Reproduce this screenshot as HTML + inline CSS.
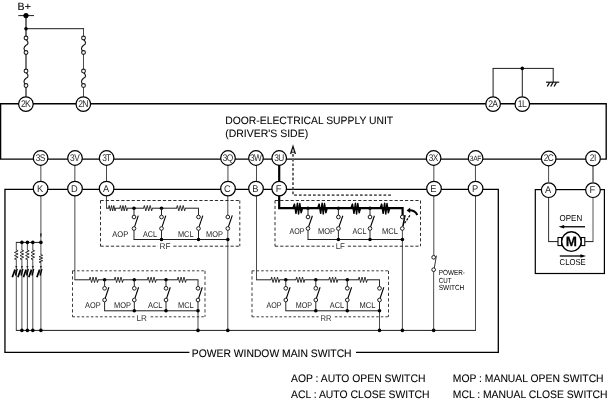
<!DOCTYPE html>
<html lang="en">
<head>
<meta charset="utf-8">
<title>Power Window Main Switch Wiring Diagram</title>
<style>
html,body{margin:0;padding:0;background:#fff;}
body{width:608px;height:400px;overflow:hidden;}
svg{display:block;font-family:"Liberation Sans", sans-serif;filter:grayscale(1);text-rendering:geometricPrecision;}
</style>
</head>
<body>
<svg width="608" height="400" viewBox="0 0 608 400">
<rect x="0" y="0" width="608" height="400" fill="#fff"/>
<text x="17.6" y="9.6" font-size="10.6" fill="#000"  stroke="#000" stroke-width="0.1">B+</text>
<line x1="18.3" y1="15.6" x2="34" y2="15.6" stroke="#1c1c1c" stroke-width="1.0" />
<line x1="26" y1="15.6" x2="26" y2="36.2" stroke="#1c1c1c" stroke-width="1.25" />
<circle cx="26" cy="15.6" r="2.6" fill="#000"/>
<line x1="26" y1="28.7" x2="83.9" y2="28.7" stroke="#1c1c1c" stroke-width="1.0" />
<line x1="83.5" y1="28.2" x2="83.5" y2="36.4" stroke="#1c1c1c" stroke-width="0.8" />
<circle cx="26" cy="28.7" r="1.8" fill="#000"/>
<path d="M26,39.5 c3.0,2.47 2.4,4.79 0,5.75 c-2.4,1.97 -3.0,4.79 0,5.75" fill="none" stroke="#111" stroke-width="1.1"/>
<circle cx="26" cy="38" r="1.9" fill="#fff" stroke="#1c1c1c" stroke-width="1.05"/>
<circle cx="26" cy="52.5" r="1.9" fill="#fff" stroke="#1c1c1c" stroke-width="1.05"/>
<line x1="26" y1="54" x2="26" y2="69.5" stroke="#1c1c1c" stroke-width="1.2" />
<path d="M26,72.5 c3.0,2.47 2.4,4.79 0,5.75 c-2.4,1.97 -3.0,4.79 0,5.75" fill="none" stroke="#111" stroke-width="1.1"/>
<circle cx="26" cy="71" r="1.9" fill="#fff" stroke="#1c1c1c" stroke-width="1.05"/>
<circle cx="26" cy="85.5" r="1.9" fill="#fff" stroke="#1c1c1c" stroke-width="1.05"/>
<line x1="26" y1="87" x2="26" y2="97" stroke="#1c1c1c" stroke-width="1.2" />
<path d="M83.5,39.5 c3.0,2.47 2.4,4.79 0,5.75 c-2.4,1.97 -3.0,4.79 0,5.75" fill="none" stroke="#111" stroke-width="1.1"/>
<circle cx="83.5" cy="38" r="1.9" fill="#fff" stroke="#1c1c1c" stroke-width="1.05"/>
<circle cx="83.5" cy="52.5" r="1.9" fill="#fff" stroke="#1c1c1c" stroke-width="1.05"/>
<line x1="83.5" y1="54" x2="83.5" y2="69.5" stroke="#1c1c1c" stroke-width="0.8" />
<path d="M83.5,72.5 c3.0,2.47 2.4,4.79 0,5.75 c-2.4,1.97 -3.0,4.79 0,5.75" fill="none" stroke="#111" stroke-width="1.1"/>
<circle cx="83.5" cy="71" r="1.9" fill="#fff" stroke="#1c1c1c" stroke-width="1.05"/>
<circle cx="83.5" cy="85.5" r="1.9" fill="#fff" stroke="#1c1c1c" stroke-width="1.05"/>
<line x1="83.5" y1="87" x2="83.5" y2="97" stroke="#1c1c1c" stroke-width="0.8" />
<line x1="493.1" y1="68.4" x2="493.1" y2="97" stroke="#1c1c1c" stroke-width="1.0" />
<line x1="492.6" y1="68.4" x2="553.7" y2="68.4" stroke="#1c1c1c" stroke-width="1.0" />
<line x1="553.2" y1="68.4" x2="553.2" y2="82.2" stroke="#1c1c1c" stroke-width="1.0" />
<line x1="522.3" y1="68.4" x2="522.3" y2="97" stroke="#1c1c1c" stroke-width="1.0" />
<circle cx="522.3" cy="68.4" r="1.8" fill="#000"/>
<line x1="546" y1="82.2" x2="559.2" y2="82.2" stroke="#111" stroke-width="1.2" />
<line x1="549.6" y1="82.4" x2="547.3" y2="86.5" stroke="#111" stroke-width="1.3" />
<line x1="553.0" y1="82.4" x2="550.7" y2="86.5" stroke="#111" stroke-width="1.3" />
<line x1="556.4" y1="82.4" x2="554.1" y2="86.5" stroke="#111" stroke-width="1.3" />
<path d="M0.6,103.7 H606.2 V159.1 H0.6 Z" fill="none" stroke="#000" stroke-width="1.35"/>
<text x="225.2" y="124.0" font-size="10.7" textLength="168" lengthAdjust="spacingAndGlyphs" fill="#000"  stroke="#000" stroke-width="0.06">DOOR-ELECTRICAL SUPPLY UNIT</text>
<text x="225.2" y="137.1" font-size="10.7" textLength="83" lengthAdjust="spacingAndGlyphs" fill="#000"  stroke="#000" stroke-width="0.06">(DRIVER&#39;S SIDE)</text>
<polyline points="189.4,352.3 4.95,352.3 4.95,189.3 498.3,189.3 498.3,352.3 356,352.3" fill="none" stroke="#000" stroke-width="1.3" />
<text x="191.8" y="356.7" font-size="10.9" textLength="159.8" lengthAdjust="spacingAndGlyphs" fill="#000"  stroke="#000" stroke-width="0.1">POWER WINDOW MAIN SWITCH</text>
<rect x="535.3" y="189.6" width="69.1" height="83.9" fill="none" stroke="#000" stroke-width="1.2"/>
<line x1="40.85" y1="165" x2="40.85" y2="182" stroke="#1c1c1c" stroke-width="0.8" />
<line x1="74.85" y1="165" x2="74.85" y2="182" stroke="#1c1c1c" stroke-width="0.8" />
<line x1="106.5" y1="165" x2="106.5" y2="182" stroke="#1c1c1c" stroke-width="0.8" />
<line x1="227.95" y1="165" x2="227.95" y2="182" stroke="#1c1c1c" stroke-width="0.8" />
<line x1="256.5" y1="165" x2="256.5" y2="182" stroke="#1c1c1c" stroke-width="0.8" />
<line x1="433.85" y1="165" x2="433.85" y2="182" stroke="#1c1c1c" stroke-width="0.8" />
<line x1="475.45" y1="165" x2="475.45" y2="182" stroke="#1c1c1c" stroke-width="0.8" />
<line x1="548.6" y1="165" x2="548.6" y2="182" stroke="#1c1c1c" stroke-width="0.8" />
<line x1="593.0" y1="165" x2="593.0" y2="182" stroke="#1c1c1c" stroke-width="1.0" />
<line x1="279.2" y1="165" x2="279.2" y2="182" stroke="#000" stroke-width="2.2" />
<polyline points="293,154 293,195.1 392,195.1" fill="none" stroke="#5a5a5a" stroke-width="1.8" stroke-dasharray="2.7 2"/>
<path d="M290.6,154.0 L293,146.4 L295.4,154.0" fill="none" stroke="#111" stroke-width="1.3"/>
<line x1="291.3" y1="152.2" x2="294.7" y2="152.2" stroke="#111" stroke-width="1.0" />
<line x1="40.9" y1="195" x2="40.9" y2="330.4" stroke="#1c1c1c" stroke-width="0.8" />
<path d="M40.1,233.6 L40.6,237.0 L41.199999999999996,237.0 L41.699999999999996,233.6 Z" fill="#111"/>
<line x1="15.9" y1="242.4" x2="40.9" y2="242.4" stroke="#1c1c1c" stroke-width="1.0" />
<line x1="16.3" y1="242.4" x2="16.3" y2="330.4" stroke="#1c1c1c" stroke-width="0.8" />
<line x1="15.9" y1="330.4" x2="475.9" y2="330.4" stroke="#1c1c1c" stroke-width="1.0" />
<line x1="475.5" y1="195" x2="475.5" y2="330.4" stroke="#1c1c1c" stroke-width="0.8" />
<line x1="21.9" y1="242.4" x2="21.9" y2="330.4" stroke="#1c1c1c" stroke-width="0.8" />
<circle cx="21.9" cy="242.4" r="1.8" fill="#000"/>
<circle cx="21.9" cy="330.4" r="1.8" fill="#000"/>
<line x1="27.4" y1="242.4" x2="27.4" y2="330.4" stroke="#1c1c1c" stroke-width="0.8" />
<circle cx="27.4" cy="242.4" r="1.8" fill="#000"/>
<circle cx="27.4" cy="330.4" r="1.8" fill="#000"/>
<line x1="32.8" y1="242.4" x2="32.8" y2="330.4" stroke="#1c1c1c" stroke-width="0.8" />
<circle cx="32.8" cy="242.4" r="1.8" fill="#000"/>
<circle cx="32.8" cy="330.4" r="1.8" fill="#000"/>
<circle cx="40.9" cy="242.4" r="1.8" fill="#000"/>
<circle cx="40.9" cy="330.4" r="1.8" fill="#000"/>
<rect x="14.3" y="250.3" width="4" height="9.0" fill="#fff"/>
<polyline points="16.3,250.0 18.1,250.8 14.5,252.4 18.1,254.0 14.5,255.6 18.1,257.2 14.5,258.8 16.3,259.6" fill="none" stroke="#1c1c1c" stroke-width="0.9" />
<path d="M15.2,266 L16.3,268.6 L17.4,266 Z" fill="#222"/>
<line x1="15.0" y1="269.6" x2="12.3" y2="277.2" stroke="#000" stroke-width="1.7" />
<line x1="15.0" y1="269.8" x2="15.6" y2="275.0" stroke="#111" stroke-width="0.9" />
<line x1="17.3" y1="268.8" x2="15.6" y2="275.6" stroke="#000" stroke-width="1.2" />
<rect x="19.9" y="250.3" width="4" height="9.0" fill="#fff"/>
<polyline points="21.9,250.0 23.7,250.8 20.1,252.4 23.7,254.0 20.1,255.6 23.7,257.2 20.1,258.8 21.9,259.6" fill="none" stroke="#1c1c1c" stroke-width="0.9" />
<path d="M20.8,266 L21.9,268.6 L23.0,266 Z" fill="#222"/>
<line x1="20.6" y1="269.6" x2="17.9" y2="277.2" stroke="#000" stroke-width="1.7" />
<line x1="20.6" y1="269.8" x2="21.2" y2="275.0" stroke="#111" stroke-width="0.9" />
<line x1="22.9" y1="268.8" x2="21.2" y2="275.6" stroke="#000" stroke-width="1.2" />
<rect x="25.4" y="250.3" width="4" height="9.0" fill="#fff"/>
<polyline points="27.4,250.0 29.2,250.8 25.6,252.4 29.2,254.0 25.6,255.6 29.2,257.2 25.6,258.8 27.4,259.6" fill="none" stroke="#1c1c1c" stroke-width="0.9" />
<path d="M26.3,266 L27.4,268.6 L28.5,266 Z" fill="#222"/>
<line x1="26.1" y1="269.6" x2="23.4" y2="277.2" stroke="#000" stroke-width="1.7" />
<line x1="26.1" y1="269.8" x2="26.7" y2="275.0" stroke="#111" stroke-width="0.9" />
<line x1="28.4" y1="268.8" x2="26.7" y2="275.6" stroke="#000" stroke-width="1.2" />
<rect x="30.8" y="250.3" width="4" height="9.0" fill="#fff"/>
<polyline points="32.8,250.0 34.6,250.8 31.0,252.4 34.6,254.0 31.0,255.6 34.6,257.2 31.0,258.8 32.8,259.6" fill="none" stroke="#1c1c1c" stroke-width="0.9" />
<path d="M31.7,266 L32.8,268.6 L33.9,266 Z" fill="#222"/>
<line x1="31.5" y1="269.6" x2="28.8" y2="277.2" stroke="#000" stroke-width="1.7" />
<line x1="31.5" y1="269.8" x2="32.1" y2="275.0" stroke="#111" stroke-width="0.9" />
<line x1="33.8" y1="268.8" x2="32.1" y2="275.6" stroke="#000" stroke-width="1.2" />
<rect x="38.9" y="255.0" width="4" height="7.4" fill="#fff"/>
<polyline points="40.9,254.7 42.7,255.37 39.1,256.7 42.7,258.03 39.1,259.37 42.7,260.7 39.1,262.03 40.9,262.7" fill="none" stroke="#1c1c1c" stroke-width="0.9" />
<path d="M39.8,266 L40.9,268.6 L42.0,266 Z" fill="#222"/>
<line x1="39.6" y1="269.6" x2="36.9" y2="277.2" stroke="#000" stroke-width="1.7" />
<line x1="39.6" y1="269.8" x2="40.2" y2="275.0" stroke="#111" stroke-width="0.9" />
<line x1="41.9" y1="268.8" x2="40.2" y2="275.6" stroke="#000" stroke-width="1.2" />
<line x1="100.5" y1="200.5" x2="239.8" y2="200.5" stroke="#222" stroke-width="0.95" stroke-dasharray="3.2 2"/>
<line x1="100.5" y1="246.2" x2="239.8" y2="246.2" stroke="#222" stroke-width="0.95" stroke-dasharray="3.2 2"/>
<line x1="100.5" y1="200.5" x2="100.5" y2="246.2" stroke="#222" stroke-width="0.95" stroke-dasharray="3.1 2.3"/>
<line x1="239.8" y1="200.5" x2="239.8" y2="246.2" stroke="#222" stroke-width="0.95" stroke-dasharray="3.1 2.3"/>
<line x1="106.5" y1="195" x2="106.5" y2="208.2" stroke="#1c1c1c" stroke-width="0.8" />
<line x1="106.1" y1="208.2" x2="198.9" y2="208.2" stroke="#1c1c1c" stroke-width="1.0" />
<rect x="108.9" y="206.2" width="6.4" height="4" fill="#fff"/>
<polyline points="108.6,208.2 109.18,205.5 110.35,210.9 111.52,205.5 112.68,210.9 113.85,205.5 115.02,210.9 115.6,208.2" fill="none" stroke="#1c1c1c" stroke-width="0.9" stroke-linejoin="miter"/>
<rect x="120.1" y="206.2" width="7.0" height="4" fill="#fff"/>
<polyline points="119.8,208.2 120.43,205.5 121.7,210.9 122.97,205.5 124.23,210.9 125.5,205.5 126.77,210.9 127.4,208.2" fill="none" stroke="#1c1c1c" stroke-width="0.9" stroke-linejoin="miter"/>
<rect x="143.9" y="206.2" width="8.2" height="4" fill="#fff"/>
<polyline points="143.6,208.2 144.33,205.5 145.8,210.9 147.27,205.5 148.73,210.9 150.2,205.5 151.67,210.9 152.4,208.2" fill="none" stroke="#1c1c1c" stroke-width="0.9" stroke-linejoin="miter"/>
<rect x="176.9" y="206.2" width="8.2" height="4" fill="#fff"/>
<polyline points="176.6,208.2 177.33,205.5 178.8,210.9 180.27,205.5 181.73,210.9 183.2,205.5 184.67,210.9 185.4,208.2" fill="none" stroke="#1c1c1c" stroke-width="0.9" stroke-linejoin="miter"/>
<circle cx="134" cy="208.2" r="1.8" fill="#000"/>
<circle cx="161.5" cy="208.2" r="1.8" fill="#000"/>
<line x1="134" y1="208.2" x2="134" y2="215.2" stroke="#1c1c1c" stroke-width="0.95" />
<line x1="134" y1="230.3" x2="134" y2="239.5" stroke="#1c1c1c" stroke-width="0.95" />
<line x1="134.6" y1="226.7" x2="138.3" y2="215.6" stroke="#000" stroke-width="1.1" />
<circle cx="134" cy="217" r="1.85" fill="#fff" stroke="#1c1c1c" stroke-width="1.0"/>
<circle cx="134" cy="228.5" r="1.85" fill="#fff" stroke="#1c1c1c" stroke-width="1.0"/>
<line x1="161.5" y1="208.2" x2="161.5" y2="215.2" stroke="#1c1c1c" stroke-width="0.95" />
<line x1="161.5" y1="230.3" x2="161.5" y2="239.5" stroke="#1c1c1c" stroke-width="0.95" />
<line x1="162.1" y1="226.7" x2="165.8" y2="215.6" stroke="#000" stroke-width="1.1" />
<circle cx="161.5" cy="217" r="1.85" fill="#fff" stroke="#1c1c1c" stroke-width="1.0"/>
<circle cx="161.5" cy="228.5" r="1.85" fill="#fff" stroke="#1c1c1c" stroke-width="1.0"/>
<line x1="198.5" y1="208.2" x2="198.5" y2="215.2" stroke="#1c1c1c" stroke-width="0.95" />
<line x1="198.5" y1="230.3" x2="198.5" y2="239.5" stroke="#1c1c1c" stroke-width="0.95" />
<line x1="199.1" y1="226.7" x2="202.8" y2="215.6" stroke="#000" stroke-width="1.1" />
<circle cx="198.5" cy="217" r="1.85" fill="#fff" stroke="#1c1c1c" stroke-width="1.0"/>
<circle cx="198.5" cy="228.5" r="1.85" fill="#fff" stroke="#1c1c1c" stroke-width="1.0"/>
<line x1="227.8" y1="195" x2="227.8" y2="215.4" stroke="#1c1c1c" stroke-width="0.8" />
<line x1="227.8" y1="230.3" x2="227.8" y2="239.5" stroke="#1c1c1c" stroke-width="0.8" />
<line x1="228.4" y1="226.7" x2="232.3" y2="215.4" stroke="#000" stroke-width="1.1" />
<circle cx="227.8" cy="217" r="1.85" fill="#fff" stroke="#1c1c1c" stroke-width="1.0"/>
<circle cx="227.8" cy="228.5" r="1.85" fill="#fff" stroke="#1c1c1c" stroke-width="1.0"/>
<line x1="133.6" y1="239.5" x2="227.8" y2="239.5" stroke="#1c1c1c" stroke-width="1.0" />
<line x1="227.8" y1="239.5" x2="227.8" y2="330.4" stroke="#1c1c1c" stroke-width="0.8" />
<circle cx="161.5" cy="239.5" r="1.8" fill="#000"/>
<circle cx="198.5" cy="239.5" r="1.8" fill="#000"/>
<circle cx="227.8" cy="239.5" r="1.8" fill="#000"/>
<circle cx="227.8" cy="330.4" r="1.8" fill="#000"/>
<text x="112.3" y="236.6" font-size="8.4" textLength="16" lengthAdjust="spacingAndGlyphs" fill="#1a1a1a" >AOP</text>
<text x="143" y="236.6" font-size="8.4" textLength="14" lengthAdjust="spacingAndGlyphs" fill="#1a1a1a" >ACL</text>
<text x="178" y="236.6" font-size="8.4" textLength="15.5" lengthAdjust="spacingAndGlyphs" fill="#1a1a1a" >MCL</text>
<text x="206" y="236.6" font-size="8.4" textLength="16.8" lengthAdjust="spacingAndGlyphs" fill="#1a1a1a" >MOP</text>
<rect x="157.5" y="243" width="15" height="7" fill="#fff"/>
<text x="159.6" y="249.3" font-size="8.4" textLength="11" lengthAdjust="spacingAndGlyphs" fill="#333" >RF</text>
<line x1="275" y1="200.5" x2="420.5" y2="200.5" stroke="#222" stroke-width="0.95" stroke-dasharray="3.2 2"/>
<line x1="275" y1="246.2" x2="420.5" y2="246.2" stroke="#222" stroke-width="0.95" stroke-dasharray="3.2 2"/>
<line x1="275" y1="200.5" x2="275" y2="246.2" stroke="#222" stroke-width="0.95" stroke-dasharray="3.1 2.3"/>
<line x1="420.5" y1="200.5" x2="420.5" y2="246.2" stroke="#222" stroke-width="0.95" stroke-dasharray="3.1 2.3"/>
<polyline points="279.2,195 279.2,208.1 402.6,208.1 402.6,215.4" fill="none" stroke="#000" stroke-width="2.2" />
<polyline points="293.05,208.1 294.45,204.1 295.95,213.3 297.45,203.2 298.55,214.0 299.8,203.5 301.15,212.7 302.55,208.1" fill="none" stroke="#000" stroke-width="1.5" stroke-linejoin="round"/>
<polyline points="317.75,208.1 319.15,204.1 320.65,213.3 322.15,203.2 323.25,214.0 324.5,203.5 325.85,212.7 327.25,208.1" fill="none" stroke="#000" stroke-width="1.5" stroke-linejoin="round"/>
<polyline points="351.05,208.1 352.45,204.1 353.95,213.3 355.45,203.2 356.55,214.0 357.8,203.5 359.15,212.7 360.55,208.1" fill="none" stroke="#000" stroke-width="1.5" stroke-linejoin="round"/>
<polyline points="380.25,208.1 381.65,204.1 383.15,213.3 384.65,203.2 385.75,214.0 387.0,203.5 388.35,212.7 389.75,208.1" fill="none" stroke="#000" stroke-width="1.5" stroke-linejoin="round"/>
<circle cx="308" cy="208.2" r="1.8" fill="#000"/>
<circle cx="338.4" cy="208.2" r="1.8" fill="#000"/>
<circle cx="370" cy="208.2" r="1.8" fill="#000"/>
<line x1="308" y1="208.2" x2="308" y2="215.2" stroke="#1c1c1c" stroke-width="0.95" />
<line x1="308" y1="230.3" x2="308" y2="239.5" stroke="#1c1c1c" stroke-width="0.95" />
<line x1="308.6" y1="226.7" x2="312.4" y2="215.8" stroke="#000" stroke-width="1.1" />
<circle cx="308" cy="217" r="1.85" fill="#fff" stroke="#1c1c1c" stroke-width="1.0"/>
<circle cx="308" cy="228.5" r="1.85" fill="#fff" stroke="#1c1c1c" stroke-width="1.0"/>
<line x1="338.4" y1="208.2" x2="338.4" y2="215.2" stroke="#1c1c1c" stroke-width="0.95" />
<line x1="338.4" y1="230.3" x2="338.4" y2="239.5" stroke="#1c1c1c" stroke-width="0.95" />
<line x1="339.0" y1="226.7" x2="342.8" y2="215.8" stroke="#000" stroke-width="1.1" />
<circle cx="338.4" cy="217" r="1.85" fill="#fff" stroke="#1c1c1c" stroke-width="1.0"/>
<circle cx="338.4" cy="228.5" r="1.85" fill="#fff" stroke="#1c1c1c" stroke-width="1.0"/>
<line x1="370" y1="208.2" x2="370" y2="215.2" stroke="#1c1c1c" stroke-width="0.95" />
<line x1="370" y1="230.3" x2="370" y2="239.5" stroke="#1c1c1c" stroke-width="0.95" />
<line x1="370.6" y1="226.7" x2="374.4" y2="215.8" stroke="#000" stroke-width="1.1" />
<circle cx="370" cy="217" r="1.85" fill="#fff" stroke="#1c1c1c" stroke-width="1.0"/>
<circle cx="370" cy="228.5" r="1.85" fill="#fff" stroke="#1c1c1c" stroke-width="1.0"/>
<line x1="402.4" y1="230" x2="402.4" y2="239.5" stroke="#1c1c1c" stroke-width="0.8" />
<line x1="402.9" y1="226.4" x2="405.0" y2="215.2" stroke="#000" stroke-width="1.5" />
<line x1="404.6" y1="223.2" x2="410.2" y2="215.0" stroke="#000" stroke-width="1.2" stroke-dasharray="2.4 1.1"/>
<circle cx="402.3" cy="217" r="1.85" fill="#fff" stroke="#1c1c1c" stroke-width="1.0"/>
<circle cx="402.3" cy="228.5" r="1.85" fill="#fff" stroke="#1c1c1c" stroke-width="1.0"/>
<path d="M417.3,215.0 C415.8,211.8 413.0,210.2 409.0,210.3" fill="none" stroke="#000" stroke-width="2.1"/>
<path d="M406.6,210.4 L410.2,207.6 L410.2,213.0 Z" fill="#000"/>
<line x1="307.6" y1="239.5" x2="402.4" y2="239.5" stroke="#1c1c1c" stroke-width="1.0" />
<line x1="402.4" y1="239.5" x2="402.4" y2="330.4" stroke="#1c1c1c" stroke-width="0.8" />
<circle cx="338.4" cy="239.5" r="1.8" fill="#000"/>
<circle cx="370" cy="239.5" r="1.8" fill="#000"/>
<circle cx="402.4" cy="239.5" r="1.8" fill="#000"/>
<circle cx="402.4" cy="330.4" r="1.8" fill="#000"/>
<text x="289.5" y="234.2" font-size="8.4" textLength="15" lengthAdjust="spacingAndGlyphs" fill="#1a1a1a" >AOP</text>
<text x="318" y="234.2" font-size="8.4" textLength="17" lengthAdjust="spacingAndGlyphs" fill="#1a1a1a" >MOP</text>
<text x="352.5" y="234.2" font-size="8.4" textLength="14" lengthAdjust="spacingAndGlyphs" fill="#1a1a1a" >ACL</text>
<text x="382" y="234.2" font-size="8.4" textLength="16" lengthAdjust="spacingAndGlyphs" fill="#1a1a1a" >MCL</text>
<rect x="334" y="243" width="13" height="7" fill="#fff"/>
<text x="335.7" y="249.3" font-size="8.4" textLength="9.2" lengthAdjust="spacingAndGlyphs" fill="#333" >LF</text>
<line x1="72.5" y1="270.8" x2="205" y2="270.8" stroke="#333" stroke-width="0.95" stroke-dasharray="2.5 2.1"/>
<line x1="72.5" y1="316.8" x2="205" y2="316.8" stroke="#333" stroke-width="0.95" stroke-dasharray="2.5 2.1"/>
<line x1="72.5" y1="270.8" x2="72.5" y2="316.8" stroke="#333" stroke-width="0.95" stroke-dasharray="3.2 2.3"/>
<line x1="205" y1="270.8" x2="205" y2="316.8" stroke="#333" stroke-width="0.95" stroke-dasharray="3.2 2.3"/>
<line x1="74.85" y1="195" x2="74.85" y2="279.8" stroke="#1c1c1c" stroke-width="0.8" />
<line x1="74.45" y1="279.8" x2="198.4" y2="279.8" stroke="#1c1c1c" stroke-width="1.0" />
<rect x="89.7" y="277.8" width="8.2" height="4" fill="#fff"/>
<polyline points="89.4,279.8 90.13,277.1 91.6,282.5 93.07,277.1 94.53,282.5 96.0,277.1 97.47,282.5 98.2,279.8" fill="none" stroke="#1c1c1c" stroke-width="0.9" stroke-linejoin="miter"/>
<rect x="114.7" y="277.8" width="8.2" height="4" fill="#fff"/>
<polyline points="114.4,279.8 115.13,277.1 116.6,282.5 118.07,277.1 119.53,282.5 121.0,277.1 122.47,282.5 123.2,279.8" fill="none" stroke="#1c1c1c" stroke-width="0.9" stroke-linejoin="miter"/>
<rect x="147.7" y="277.8" width="8.2" height="4" fill="#fff"/>
<polyline points="147.4,279.8 148.13,277.1 149.6,282.5 151.07,277.1 152.53,282.5 154.0,277.1 155.47,282.5 156.2,279.8" fill="none" stroke="#1c1c1c" stroke-width="0.9" stroke-linejoin="miter"/>
<rect x="177.7" y="277.8" width="8.2" height="4" fill="#fff"/>
<polyline points="177.4,279.8 178.13,277.1 179.6,282.5 181.07,277.1 182.53,282.5 184.0,277.1 185.47,282.5 186.2,279.8" fill="none" stroke="#1c1c1c" stroke-width="0.9" stroke-linejoin="miter"/>
<circle cx="104.6" cy="279.8" r="1.8" fill="#000"/>
<circle cx="134.3" cy="279.8" r="1.8" fill="#000"/>
<circle cx="166" cy="279.8" r="1.8" fill="#000"/>
<line x1="104.6" y1="279.8" x2="104.6" y2="286.5" stroke="#1c1c1c" stroke-width="0.95" />
<line x1="104.6" y1="301.8" x2="104.6" y2="310.8" stroke="#1c1c1c" stroke-width="0.95" />
<line x1="105.2" y1="298.2" x2="108.9" y2="287.3" stroke="#000" stroke-width="1.1" />
<circle cx="104.6" cy="288.3" r="1.85" fill="#fff" stroke="#1c1c1c" stroke-width="1.0"/>
<circle cx="104.6" cy="300" r="1.85" fill="#fff" stroke="#1c1c1c" stroke-width="1.0"/>
<line x1="134.3" y1="279.8" x2="134.3" y2="286.5" stroke="#1c1c1c" stroke-width="0.95" />
<line x1="134.3" y1="301.8" x2="134.3" y2="310.8" stroke="#1c1c1c" stroke-width="0.95" />
<line x1="134.9" y1="298.2" x2="138.6" y2="287.3" stroke="#000" stroke-width="1.1" />
<circle cx="134.3" cy="288.3" r="1.85" fill="#fff" stroke="#1c1c1c" stroke-width="1.0"/>
<circle cx="134.3" cy="300" r="1.85" fill="#fff" stroke="#1c1c1c" stroke-width="1.0"/>
<line x1="166" y1="279.8" x2="166" y2="286.5" stroke="#1c1c1c" stroke-width="0.95" />
<line x1="166" y1="301.8" x2="166" y2="310.8" stroke="#1c1c1c" stroke-width="0.95" />
<line x1="166.6" y1="298.2" x2="170.3" y2="287.3" stroke="#000" stroke-width="1.1" />
<circle cx="166" cy="288.3" r="1.85" fill="#fff" stroke="#1c1c1c" stroke-width="1.0"/>
<circle cx="166" cy="300" r="1.85" fill="#fff" stroke="#1c1c1c" stroke-width="1.0"/>
<line x1="198" y1="279.8" x2="198" y2="286.5" stroke="#1c1c1c" stroke-width="0.95" />
<line x1="198" y1="301.8" x2="198" y2="310.8" stroke="#1c1c1c" stroke-width="0.95" />
<line x1="198.6" y1="298.2" x2="202.3" y2="287.3" stroke="#000" stroke-width="1.1" />
<circle cx="198" cy="288.3" r="1.85" fill="#fff" stroke="#1c1c1c" stroke-width="1.0"/>
<circle cx="198" cy="300" r="1.85" fill="#fff" stroke="#1c1c1c" stroke-width="1.0"/>
<line x1="104.2" y1="310.8" x2="198" y2="310.8" stroke="#1c1c1c" stroke-width="1.0" />
<line x1="198" y1="310.8" x2="198" y2="330.4" stroke="#1c1c1c" stroke-width="0.8" />
<circle cx="134.3" cy="310.8" r="1.8" fill="#000"/>
<circle cx="166" cy="310.8" r="1.8" fill="#000"/>
<circle cx="198" cy="310.8" r="1.8" fill="#000"/>
<circle cx="198" cy="330.4" r="1.8" fill="#000"/>
<text x="85" y="307.8" font-size="8.4" textLength="15.6" lengthAdjust="spacingAndGlyphs" fill="#1a1a1a" >AOP</text>
<text x="114.0" y="307.8" font-size="8.4" textLength="17.0" lengthAdjust="spacingAndGlyphs" fill="#1a1a1a" >MOP</text>
<text x="148" y="307.8" font-size="8.4" textLength="14.5" lengthAdjust="spacingAndGlyphs" fill="#1a1a1a" >ACL</text>
<text x="178" y="307.8" font-size="8.4" textLength="15.7" lengthAdjust="spacingAndGlyphs" fill="#1a1a1a" >MCL</text>
<rect x="134.5" y="314" width="14.5" height="7" fill="#fff"/>
<text x="136.5" y="320.8" font-size="8.4" textLength="10.4" lengthAdjust="spacingAndGlyphs" fill="#333" >LR</text>
<line x1="252" y1="270.8" x2="388.5" y2="270.8" stroke="#333" stroke-width="0.95" stroke-dasharray="2.5 2.1"/>
<line x1="252" y1="316.8" x2="388.5" y2="316.8" stroke="#333" stroke-width="0.95" stroke-dasharray="2.5 2.1"/>
<line x1="252" y1="270.8" x2="252" y2="316.8" stroke="#333" stroke-width="0.95" stroke-dasharray="3.2 2.3"/>
<line x1="388.5" y1="270.8" x2="388.5" y2="316.8" stroke="#333" stroke-width="0.95" stroke-dasharray="3.2 2.3"/>
<line x1="256.5" y1="195" x2="256.5" y2="279.8" stroke="#1c1c1c" stroke-width="0.8" />
<line x1="256.1" y1="279.8" x2="379.9" y2="279.8" stroke="#1c1c1c" stroke-width="1.0" />
<rect x="271.2" y="277.8" width="8.2" height="4" fill="#fff"/>
<polyline points="270.9,279.8 271.63,277.1 273.1,282.5 274.57,277.1 276.03,282.5 277.5,277.1 278.97,282.5 279.7,279.8" fill="none" stroke="#1c1c1c" stroke-width="0.9" stroke-linejoin="miter"/>
<rect x="296.2" y="277.8" width="8.2" height="4" fill="#fff"/>
<polyline points="295.9,279.8 296.63,277.1 298.1,282.5 299.57,277.1 301.03,282.5 302.5,277.1 303.97,282.5 304.7,279.8" fill="none" stroke="#1c1c1c" stroke-width="0.9" stroke-linejoin="miter"/>
<rect x="329.2" y="277.8" width="8.2" height="4" fill="#fff"/>
<polyline points="328.9,279.8 329.63,277.1 331.1,282.5 332.57,277.1 334.03,282.5 335.5,277.1 336.97,282.5 337.7,279.8" fill="none" stroke="#1c1c1c" stroke-width="0.9" stroke-linejoin="miter"/>
<rect x="358.7" y="277.8" width="8.2" height="4" fill="#fff"/>
<polyline points="358.4,279.8 359.13,277.1 360.6,282.5 362.07,277.1 363.53,282.5 365.0,277.1 366.47,282.5 367.2,279.8" fill="none" stroke="#1c1c1c" stroke-width="0.9" stroke-linejoin="miter"/>
<circle cx="285.8" cy="279.8" r="1.8" fill="#000"/>
<circle cx="315.8" cy="279.8" r="1.8" fill="#000"/>
<circle cx="347.3" cy="279.8" r="1.8" fill="#000"/>
<line x1="285.8" y1="279.8" x2="285.8" y2="286.5" stroke="#1c1c1c" stroke-width="0.95" />
<line x1="285.8" y1="301.8" x2="285.8" y2="310.8" stroke="#1c1c1c" stroke-width="0.95" />
<line x1="286.4" y1="298.2" x2="290.1" y2="287.3" stroke="#000" stroke-width="1.1" />
<circle cx="285.8" cy="288.3" r="1.85" fill="#fff" stroke="#1c1c1c" stroke-width="1.0"/>
<circle cx="285.8" cy="300" r="1.85" fill="#fff" stroke="#1c1c1c" stroke-width="1.0"/>
<line x1="315.8" y1="279.8" x2="315.8" y2="286.5" stroke="#1c1c1c" stroke-width="0.95" />
<line x1="315.8" y1="301.8" x2="315.8" y2="310.8" stroke="#1c1c1c" stroke-width="0.95" />
<line x1="316.4" y1="298.2" x2="320.1" y2="287.3" stroke="#000" stroke-width="1.1" />
<circle cx="315.8" cy="288.3" r="1.85" fill="#fff" stroke="#1c1c1c" stroke-width="1.0"/>
<circle cx="315.8" cy="300" r="1.85" fill="#fff" stroke="#1c1c1c" stroke-width="1.0"/>
<line x1="347.3" y1="279.8" x2="347.3" y2="286.5" stroke="#1c1c1c" stroke-width="0.95" />
<line x1="347.3" y1="301.8" x2="347.3" y2="310.8" stroke="#1c1c1c" stroke-width="0.95" />
<line x1="347.9" y1="298.2" x2="351.6" y2="287.3" stroke="#000" stroke-width="1.1" />
<circle cx="347.3" cy="288.3" r="1.85" fill="#fff" stroke="#1c1c1c" stroke-width="1.0"/>
<circle cx="347.3" cy="300" r="1.85" fill="#fff" stroke="#1c1c1c" stroke-width="1.0"/>
<line x1="379.5" y1="279.8" x2="379.5" y2="286.5" stroke="#1c1c1c" stroke-width="0.95" />
<line x1="379.5" y1="301.8" x2="379.5" y2="310.8" stroke="#1c1c1c" stroke-width="0.95" />
<line x1="380.1" y1="298.2" x2="383.8" y2="287.3" stroke="#000" stroke-width="1.1" />
<circle cx="379.5" cy="288.3" r="1.85" fill="#fff" stroke="#1c1c1c" stroke-width="1.0"/>
<circle cx="379.5" cy="300" r="1.85" fill="#fff" stroke="#1c1c1c" stroke-width="1.0"/>
<line x1="285.4" y1="310.8" x2="379.5" y2="310.8" stroke="#1c1c1c" stroke-width="1.0" />
<line x1="379.5" y1="310.8" x2="379.5" y2="330.4" stroke="#1c1c1c" stroke-width="0.8" />
<circle cx="315.8" cy="310.8" r="1.8" fill="#000"/>
<circle cx="347.3" cy="310.8" r="1.8" fill="#000"/>
<circle cx="379.5" cy="310.8" r="1.8" fill="#000"/>
<circle cx="379.5" cy="330.4" r="1.8" fill="#000"/>
<text x="266.5" y="307.8" font-size="8.4" textLength="15" lengthAdjust="spacingAndGlyphs" fill="#1a1a1a" >AOP</text>
<text x="295.8" y="307.8" font-size="8.4" textLength="16.3" lengthAdjust="spacingAndGlyphs" fill="#1a1a1a" >MOP</text>
<text x="329.8" y="307.8" font-size="8.4" textLength="14.3" lengthAdjust="spacingAndGlyphs" fill="#1a1a1a" >ACL</text>
<text x="359.5" y="307.8" font-size="8.4" textLength="15.8" lengthAdjust="spacingAndGlyphs" fill="#1a1a1a" >MCL</text>
<rect x="318.5" y="314" width="15.5" height="7" fill="#fff"/>
<text x="320.6" y="320.8" font-size="8.4" textLength="11" lengthAdjust="spacingAndGlyphs" fill="#333" >RR</text>
<line x1="433.8" y1="195" x2="433.8" y2="255.7" stroke="#1c1c1c" stroke-width="0.8" />
<line x1="433.65" y1="271.3" x2="433.65" y2="330.4" stroke="#1c1c1c" stroke-width="0.8" />
<line x1="434.25" y1="268.2" x2="436.45" y2="255.6" stroke="#1c1c1c" stroke-width="0.9" />
<circle cx="433.65" cy="257.3" r="1.85" fill="#fff" stroke="#1c1c1c" stroke-width="1.0"/>
<circle cx="433.65" cy="269.7" r="1.85" fill="#fff" stroke="#1c1c1c" stroke-width="1.0"/>
<circle cx="433.65" cy="330.4" r="1.8" fill="#000"/>
<text x="438.7" y="275.1" font-size="7.4" textLength="26.2" lengthAdjust="spacingAndGlyphs" fill="#000" >POWER-</text>
<text x="438.7" y="282.8" font-size="7.4" textLength="12.8" lengthAdjust="spacingAndGlyphs" fill="#000" >CUT</text>
<text x="438.7" y="290.1" font-size="7.4" textLength="25.6" lengthAdjust="spacingAndGlyphs" fill="#000" >SWITCH</text>
<line x1="548.6" y1="196" x2="548.6" y2="241.6" stroke="#1c1c1c" stroke-width="0.9" />
<line x1="548.2" y1="241.6" x2="558" y2="241.6" stroke="#1c1c1c" stroke-width="1.0" />
<line x1="593" y1="196" x2="593" y2="241.6" stroke="#1c1c1c" stroke-width="0.75" />
<line x1="584.8" y1="241.6" x2="593.4" y2="241.6" stroke="#1c1c1c" stroke-width="1.0" />
<rect x="558" y="237.5" width="3.6" height="8.1" fill="#fff" stroke="#000" stroke-width="1.05"/>
<rect x="581.2" y="237.5" width="3.6" height="8.1" fill="#fff" stroke="#000" stroke-width="1.05"/>
<circle cx="571.4" cy="241.6" r="9.8" fill="#fff" stroke="#000" stroke-width="1.4"/>
<text x="571.4" y="246.3" font-size="13.4" text-anchor="middle" font-weight="bold" fill="#000"  stroke="#000" stroke-width="0.25">M</text>
<text x="559.6" y="220.5" font-size="8.6" textLength="22.6" lengthAdjust="spacingAndGlyphs" fill="#000" >OPEN</text>
<text x="559.6" y="264.8" font-size="8.6" textLength="26.1" lengthAdjust="spacingAndGlyphs" fill="#000" >CLOSE</text>
<line x1="562" y1="226.75" x2="585" y2="226.75" stroke="#111" stroke-width="1.4" />
<path d="M558.6,226.75 L564.2,224.9 L564.2,228.6 Z" fill="#000"/>
<line x1="559.8" y1="256.0" x2="583" y2="256.0" stroke="#111" stroke-width="1.4" />
<path d="M586.0,256.0 L580.4,254.15 L580.4,257.85 Z" fill="#000"/>
<circle cx="25.9" cy="104.1" r="7.3" fill="#fff" stroke="#000" stroke-width="1.2"/>
<text transform="translate(25.54,106.95) scale(0.89,1)" font-size="9.7" text-anchor="middle" letter-spacing="-0.8" fill="#2c2c2c">2K</text>
<circle cx="83.3" cy="104.1" r="7.3" fill="#fff" stroke="#000" stroke-width="1.2"/>
<text transform="translate(82.94,106.95) scale(0.89,1)" font-size="9.7" text-anchor="middle" letter-spacing="-0.8" fill="#2c2c2c">2N</text>
<circle cx="493.1" cy="104.1" r="7.3" fill="#fff" stroke="#000" stroke-width="1.2"/>
<text transform="translate(492.74,106.95) scale(0.89,1)" font-size="9.7" text-anchor="middle" letter-spacing="-0.8" fill="#2c2c2c">2A</text>
<circle cx="522.3" cy="104.1" r="7.3" fill="#fff" stroke="#000" stroke-width="1.2"/>
<text transform="translate(521.94,106.95) scale(0.89,1)" font-size="9.7" text-anchor="middle" letter-spacing="-0.8" fill="#2c2c2c">1L</text>
<circle cx="40.6" cy="158.0" r="7.3" fill="#fff" stroke="#000" stroke-width="1.2"/>
<text transform="translate(40.26,160.85) scale(0.86,1)" font-size="9.7" text-anchor="middle" letter-spacing="-0.8" fill="#2c2c2c">3S</text>
<circle cx="75" cy="158.0" r="7.3" fill="#fff" stroke="#000" stroke-width="1.2"/>
<text transform="translate(74.78,160.85) scale(0.86,1)" font-size="9.7" text-anchor="middle" letter-spacing="-0.5" fill="#2c2c2c">3V</text>
<circle cx="106.6" cy="158.0" r="7.3" fill="#fff" stroke="#000" stroke-width="1.2"/>
<text transform="translate(106.21,160.85) scale(0.86,1)" font-size="9.7" text-anchor="middle" letter-spacing="-0.9" fill="#2c2c2c">3T</text>
<circle cx="228" cy="158.0" r="7.3" fill="#fff" stroke="#000" stroke-width="1.2"/>
<text transform="translate(227.66,160.85) scale(0.86,1)" font-size="9.7" text-anchor="middle" letter-spacing="-0.8" fill="#2c2c2c">3Q</text>
<circle cx="256.0" cy="158.0" r="7.3" fill="#fff" stroke="#000" stroke-width="1.2"/>
<text transform="translate(255.74,160.85) scale(0.86,1)" font-size="9.7" text-anchor="middle" letter-spacing="-0.6" fill="#2c2c2c">3W</text>
<circle cx="279.2" cy="158.0" r="7.3" fill="#fff" stroke="#000" stroke-width="1.2"/>
<text transform="translate(278.86,160.85) scale(0.86,1)" font-size="9.7" text-anchor="middle" letter-spacing="-0.8" fill="#2c2c2c">3U</text>
<circle cx="433.6" cy="158.0" r="7.3" fill="#fff" stroke="#000" stroke-width="1.2"/>
<text transform="translate(433.26,160.85) scale(0.86,1)" font-size="9.7" text-anchor="middle" letter-spacing="-0.8" fill="#2c2c2c">3X</text>
<circle cx="475.6" cy="158.0" r="7.3" fill="#fff" stroke="#000" stroke-width="1.2"/>
<text transform="translate(475.38,160.85) scale(0.9,1)" font-size="7.5" text-anchor="middle" letter-spacing="-0.5" fill="#2c2c2c">3AF</text>
<circle cx="548.7" cy="158.5" r="7.3" fill="#fff" stroke="#000" stroke-width="1.2"/>
<text transform="translate(548.36,161.35) scale(0.86,1)" font-size="9.7" text-anchor="middle" letter-spacing="-0.8" fill="#2c2c2c">2C</text>
<circle cx="593" cy="158.5" r="7.3" fill="#fff" stroke="#000" stroke-width="1.2"/>
<text transform="translate(592.74,161.35) scale(0.86,1)" font-size="9.7" text-anchor="middle" letter-spacing="-0.6" fill="#2c2c2c">2I</text>
<circle cx="40.6" cy="188.6" r="7.3" fill="#fff" stroke="#000" stroke-width="1.2"/>
<text transform="translate(40.0,191.85) scale(0.96,1)" font-size="9.7" text-anchor="middle" fill="#2c2c2c">K</text>
<circle cx="75" cy="188.6" r="7.3" fill="#fff" stroke="#000" stroke-width="1.2"/>
<text transform="translate(74.4,191.85) scale(0.96,1)" font-size="9.7" text-anchor="middle" fill="#2c2c2c">D</text>
<circle cx="106.6" cy="188.6" r="7.3" fill="#fff" stroke="#000" stroke-width="1.2"/>
<text transform="translate(106.0,191.85) scale(0.96,1)" font-size="9.7" text-anchor="middle" fill="#2c2c2c">A</text>
<circle cx="228" cy="188.6" r="7.3" fill="#fff" stroke="#000" stroke-width="1.2"/>
<text transform="translate(227.4,191.85) scale(0.96,1)" font-size="9.7" text-anchor="middle" fill="#2c2c2c">C</text>
<circle cx="256.0" cy="188.6" r="7.3" fill="#fff" stroke="#000" stroke-width="1.2"/>
<text transform="translate(255.4,191.85) scale(0.96,1)" font-size="9.7" text-anchor="middle" fill="#2c2c2c">B</text>
<circle cx="279.2" cy="188.6" r="7.3" fill="#fff" stroke="#000" stroke-width="1.2"/>
<text transform="translate(278.6,191.85) scale(0.96,1)" font-size="9.7" text-anchor="middle" fill="#2c2c2c">F</text>
<circle cx="434.0" cy="188.6" r="7.3" fill="#fff" stroke="#000" stroke-width="1.2"/>
<text transform="translate(433.4,191.85) scale(0.96,1)" font-size="9.7" text-anchor="middle" fill="#2c2c2c">E</text>
<circle cx="475.6" cy="188.6" r="7.3" fill="#fff" stroke="#000" stroke-width="1.2"/>
<text transform="translate(475.0,191.85) scale(0.96,1)" font-size="9.7" text-anchor="middle" fill="#2c2c2c">P</text>
<circle cx="548.7" cy="190.2" r="7.3" fill="#fff" stroke="#000" stroke-width="1.2"/>
<text transform="translate(548.1,193.35) scale(0.96,1)" font-size="9.7" text-anchor="middle" fill="#2c2c2c">A</text>
<circle cx="593" cy="190.2" r="7.3" fill="#fff" stroke="#000" stroke-width="1.2"/>
<text transform="translate(592.4,193.35) scale(0.96,1)" font-size="9.7" text-anchor="middle" fill="#2c2c2c">F</text>
<text x="291.0" y="381.6" font-size="10.9" textLength="134.4" lengthAdjust="spacingAndGlyphs" fill="#000"  stroke="#000" stroke-width="0.08">AOP : AUTO OPEN SWITCH</text>
<text x="291.0" y="397.6" font-size="10.9" textLength="138.6" lengthAdjust="spacingAndGlyphs" fill="#000"  stroke="#000" stroke-width="0.08">ACL : AUTO CLOSE SWITCH</text>
<text x="452.8" y="381.6" font-size="10.9" textLength="150.8" lengthAdjust="spacingAndGlyphs" fill="#000"  stroke="#000" stroke-width="0.08">MOP : MANUAL OPEN SWITCH</text>
<text x="452.8" y="397.6" font-size="10.9" textLength="154.8" lengthAdjust="spacingAndGlyphs" fill="#000"  stroke="#000" stroke-width="0.08">MCL : MANUAL CLOSE SWITCH</text>
</svg>
</body>
</html>
